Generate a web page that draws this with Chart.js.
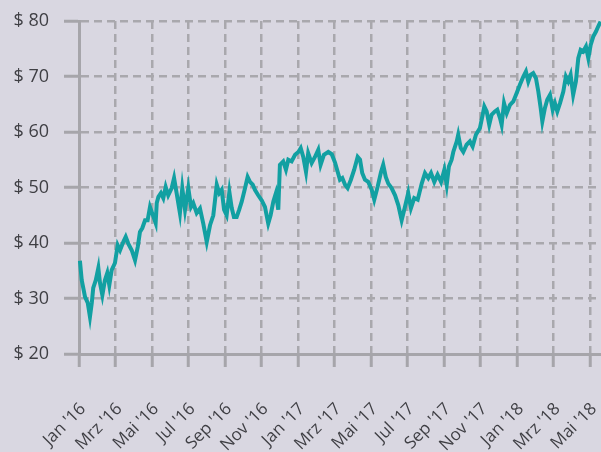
<!DOCTYPE html>
<html>
<head>
<meta charset="utf-8">
<script src="https://cdn.jsdelivr.net/npm/chart.js@4.4.1/dist/chart.umd.min.js"></script>
<style>
  html, body { margin: 0; padding: 0; background: #d9d7e1; }
  #kurs { display: block; }
</style>
</head>
<body>
<canvas id="kurs" width="601" height="452"></canvas>
<script>
// months since Jan '16
const months = [
  0.05, 0.15, 0.33, 0.48, 0.60, 0.70, 0.78, 0.92, 1.06, 1.15, 1.28, 1.42, 1.55, 1.66, 1.79, 1.97,
  2.12, 2.25, 2.43, 2.56, 2.70, 2.89, 3.07, 3.22, 3.34, 3.47, 3.62, 3.76, 3.89, 4.02, 4.20, 4.26,
  4.35, 4.49, 4.62, 4.75, 4.89, 5.08, 5.21, 5.35, 5.53, 5.66, 5.81, 5.99, 6.14, 6.26, 6.45, 6.63,
  6.81, 7.00, 7.18, 7.36, 7.55, 7.69, 7.82, 7.95, 8.09, 8.24, 8.37, 8.49, 8.64, 8.78, 8.92, 9.10,
  9.24, 9.37, 9.52, 9.64, 9.82, 10.01, 10.19, 10.37, 10.50, 10.65, 10.79, 10.92, 11.01, 11.19, 11.34, 11.47,
  11.65, 11.84, 12.02, 12.15, 12.29, 12.44, 12.56, 12.75, 12.93, 13.11, 13.24, 13.42, 13.66, 13.85, 14.03, 14.30,
  14.43, 14.58, 14.72, 14.90, 15.08, 15.27, 15.40, 15.52, 15.67, 15.85, 16.04, 16.18, 16.37, 16.55, 16.67, 16.81,
  16.95, 17.13, 17.32, 17.50, 17.68, 17.86, 18.04, 18.19, 18.37, 18.56, 18.78, 18.96, 19.14, 19.29, 19.47, 19.65,
  19.84, 20.02, 20.15, 20.27, 20.42, 20.51, 20.70, 20.78, 20.92, 21.06, 21.24, 21.42, 21.57, 21.75, 21.97, 22.12,
  22.21, 22.34, 22.48, 22.61, 22.79, 22.92, 23.07, 23.16, 23.29, 23.44, 23.62, 23.80, 23.98, 24.16, 24.35, 24.49,
  24.62, 24.75, 24.89, 25.04, 25.17, 25.30, 25.39, 25.53, 25.66, 25.81, 25.96, 26.08, 26.21, 26.36, 26.54, 26.68,
  26.81, 26.94, 27.08, 27.23, 27.36, 27.49, 27.63, 27.78, 27.91, 28.04, 28.18, 28.33, 28.45, 28.58
];

// Kurs in $
const prices = [
  36.8, 33.3, 30.3, 29.2, 26.7, 29.2, 31.9, 33.3, 35.5, 32.8, 30.6, 33.3, 34.6, 32.4, 35.1, 36.4,
  39.6, 38.7, 40.2, 41.1, 39.9, 38.7, 36.9, 39.3, 42.0, 42.7, 44.1, 44.1, 46.5, 45.3, 43.6, 47.2,
  48.3, 49.0, 48.1, 50.1, 48.6, 49.9, 51.7, 49.0, 45.4, 49.9, 46.0, 49.9, 46.5, 47.2, 45.4, 46.2,
  43.5, 40.2, 43.2, 45.0, 50.5, 49.0, 49.6, 46.0, 45.0, 49.2, 46.3, 44.7, 44.7, 46.0, 47.5, 49.9,
  51.9, 51.0, 50.5, 49.6, 48.6, 47.7, 46.5, 43.5, 45.0, 47.5, 49.0, 46.0, 54.1, 54.7, 53.2, 55.0,
  54.7, 55.9, 56.4, 57.1, 55.5, 52.8, 56.2, 54.4, 55.5, 56.8, 54.1, 55.9, 56.4, 56.0, 54.5, 51.4,
  51.7, 50.5, 49.9, 51.4, 53.2, 55.5, 55.0, 52.6, 51.4, 51.0, 49.6, 47.8, 50.2, 52.8, 54.1, 51.9,
  50.7, 49.9, 48.6, 46.8, 44.1, 46.5, 49.0, 46.3, 48.1, 47.8, 50.7, 52.6, 51.7, 52.6, 51.0, 52.3,
  51.0, 53.2, 50.5, 53.8, 55.0, 56.4, 58.3, 59.5, 57.1, 56.4, 57.7, 58.3, 57.4, 59.5, 60.7, 63.1,
  64.6, 63.7, 61.3, 63.1, 63.7, 64.0, 62.5, 61.3, 65.2, 63.4, 64.9, 65.5, 67.0, 68.5, 70.0, 70.9,
  69.1, 70.3, 70.6, 69.7, 67.3, 64.3, 61.9, 64.3, 65.8, 66.7, 64.0, 65.2, 63.7, 65.2, 67.3, 70.0,
  69.1, 70.3, 66.7, 69.1, 73.3, 74.8, 74.5, 75.4, 73.3, 75.7, 77.2, 78.1, 79.0, 79.9
];

const tickMonths = [0, 2, 4, 6, 8, 10, 12, 14, 16, 18, 20, 22, 24, 26, 28];
const tickLabels = [
  "Jan '16", "Mrz '16", "Mai '16", "Jul '16", "Sep '16", "Nov '16",
  "Jan '17", "Mrz '17", "Mai '17", "Jul '17", "Sep '17", "Nov '17",
  "Jan '18", "Mrz '18", "Mai '18"
];
const yTicks = [20, 30, 40, 50, 60, 70, 80];

const gridGrau = "#a9a8ad";
const achsenGrau = "#a6a5aa";
const schrift = "#3f3f44";

const punkte = months.map((m, i) => ({ x: m, y: prices[i] }));

new Chart(document.getElementById("kurs"), {
  type: "line",
  data: {
    datasets: [{
      data: punkte,
      borderColor: "#12a0a2",
      borderWidth: 4,
      pointRadius: 0,
      tension: 0,
      fill: false,
      clip: false
    }]
  },
  options: {
    responsive: false,
    animation: false,
    layout: { padding: { top: 21, right: 1, bottom: 0, left: 0 } },
    plugins: { legend: { display: false }, tooltip: { enabled: false } },
    scales: {
      x: {
        type: "linear",
        min: 0,
        max: 28.55,
        afterBuildTicks: scale => {
          scale.ticks = tickMonths.map(v => ({ value: v }));
        },
        afterFit: scale => {
          scale.height = 98;
          scale.paddingLeft = 0;
          scale.paddingRight = 0;
        },
        ticks: {
          autoSkip: false,
          minRotation: 45,
          maxRotation: 45,
          padding: 32,
          labelOffset: 4,
          color: schrift,
          font: { family: "'Open Sans', sans-serif", size: 17 },
          callback: (v, i) => tickLabels[i]
        },
        grid: {
          color: gridGrau,
          lineWidth: 2.5,
          tickLength: 13,
          tickColor: achsenGrau,
          tickWidth: 3
        },
        border: { color: achsenGrau, width: 3, dash: [8, 5] }
      },
      y: {
        min: 20,
        max: 80,
        afterBuildTicks: scale => {
          scale.ticks = yTicks.map(v => ({ value: v }));
        },
        afterFit: scale => {
          scale.width = 79;
          scale.paddingTop = 0;
          scale.paddingBottom = 0;
        },
        ticks: {
          padding: 15,
          color: schrift,
          font: { family: "'Open Sans', sans-serif", size: 18 },
          callback: v => "$ " + v
        },
        grid: {
          color: gridGrau,
          lineWidth: 2.5,
          tickLength: 15,
          tickColor: achsenGrau,
          tickWidth: 3
        },
        border: { color: achsenGrau, width: 3, dash: [8, 5] }
      }
    }
  }
});
</script>
</body>
</html>
